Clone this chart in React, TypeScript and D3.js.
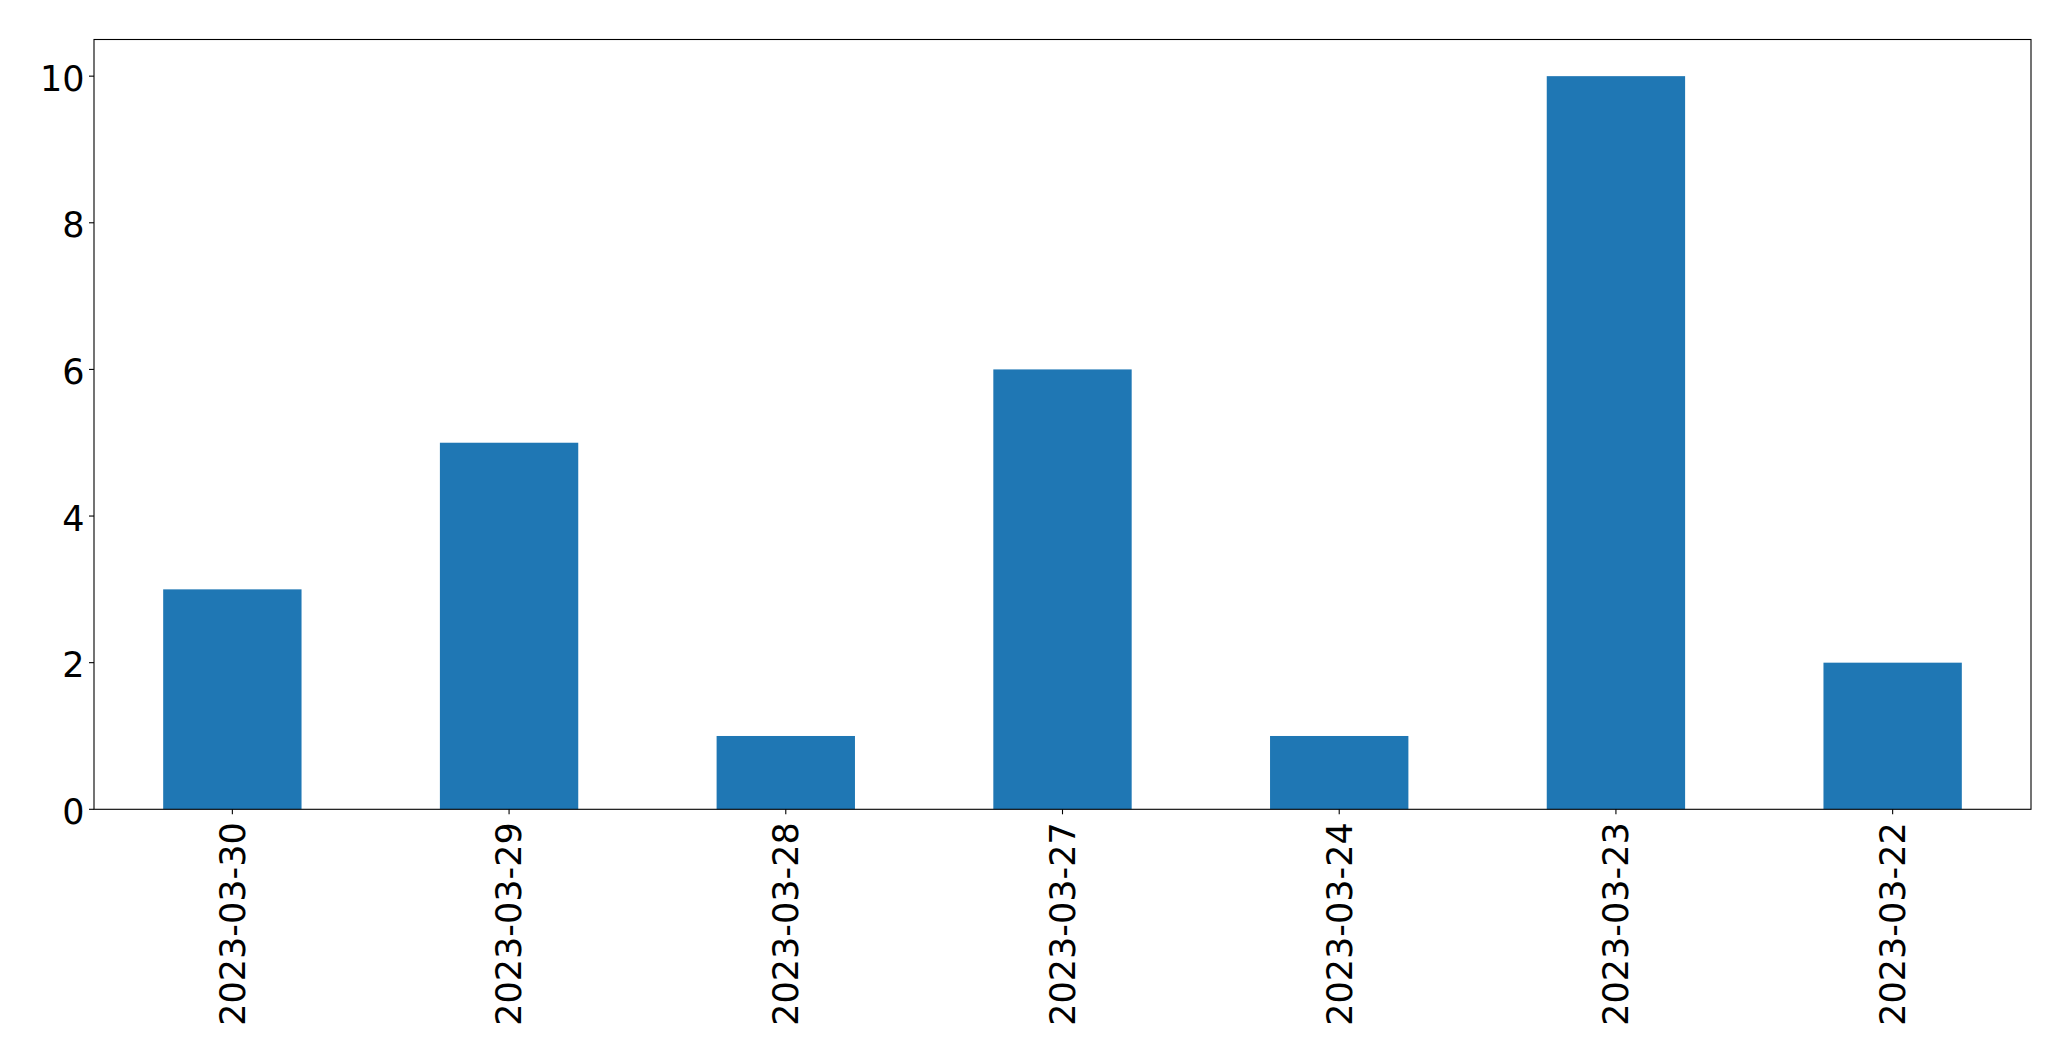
import React from "react";
import * as d3 from "d3";

const categories: string[] = ["2023-03-30", "2023-03-29", "2023-03-28", "2023-03-27", "2023-03-24", "2023-03-23", "2023-03-22"];
const values: number[] = [3, 5, 1, 6, 1, 10, 2];
const yTicks: number[] = [0, 2, 4, 6, 8, 10];

const W = 2071;
const H = 1061;
const left = 94;
const right = 2031;
const top = 39.5;
const bottom = 809.3;
const font = "'DejaVu Sans', sans-serif";
const fs = 35;

export default function App() {
  const x = d3.scaleLinear().domain([-0.5, categories.length - 0.5]).range([left, right]);
  const y = d3.scaleLinear().domain([0, 10.5]).range([bottom, top]);
  const bw = x(0.25) - x(-0.25);
  return (
    <svg width={W} height={H} style={{ position: "absolute", left: 0, top: 0, background: "#fff" }}>
      <rect x={0} y={0} width={W} height={H} fill="#fff" />
      {values.map((v, i) => (
        <rect key={i} x={x(i) - bw / 2} y={y(v)} width={bw} height={y(0) - y(v)} fill="#1f77b4" />
      ))}
      {yTicks.map((t) => (
        <g key={t}>
          <line x1={left - 5} x2={left} y1={y(t)} y2={y(t)} stroke="#000" strokeWidth={1.1} />
          <text x={left - 9.5} y={y(t) + 14.5} textAnchor="end" fontFamily={font} fontSize={fs} fill="#000">{t}</text>
        </g>
      ))}
      {categories.map((c, i) => (
        <g key={c}>
          <line x1={x(i)} x2={x(i)} y1={bottom} y2={bottom + 5} stroke="#000" strokeWidth={1.1} />
          <text transform={`translate(${x(i) + 12.3},${bottom + 13}) rotate(-90)`} textAnchor="end" fontFamily={font} fontSize={fs} fill="#000">{c}</text>
        </g>
      ))}
      <rect x={left} y={top} width={right - left} height={bottom - top} fill="none" stroke="#000" strokeWidth={1.1} />
    </svg>
  );
}
